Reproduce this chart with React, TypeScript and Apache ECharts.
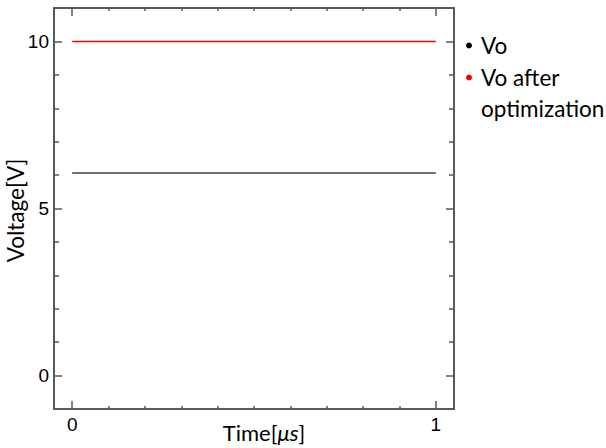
import React, { useEffect, useRef } from "react";
import * as echarts from "echarts";

const timeX = [0, 1];
const voValues = [6.06, 6.06];
const voOptValues = [10, 10];
const xMajor = [0, 1];
const xMinor = [0.1, 0.2, 0.3, 0.4, 0.5, 0.6, 0.7, 0.8, 0.9];
const yMajor = [0, 5, 10];
const yMinor = [1, 2, 3, 4, 6, 7, 8, 9];
const seriesNames = ["Vo", "Vo after optimization"];

const AXIS_COLOR = "#595959";
const TITLE_FONT = "Lato";
const TICK_FONT = "Liberation Sans";

function makeAxis(kind: "x" | "y", position: string, values: number[], len: number, showLine: boolean, labels: boolean, extra: any = {}) {
  const range = kind === "x" ? { min: -0.05, max: 1.05 } : { min: -1, max: 11 };
  return {
    type: "value",
    position,
    ...range,
    axisLine: { show: showLine, onZero: false, lineStyle: { color: AXIS_COLOR, width: 2 } },
    axisTick: { show: true, inside: true, length: len, customValues: values, lineStyle: { color: AXIS_COLOR, width: 1.5 } },
    axisLabel: labels
      ? { show: true, customValues: values, color: "#000", fontFamily: TICK_FONT, fontSize: 19, margin: kind === "x" ? 6 : 5 }
      : { show: false },
    splitLine: { show: false },
    minorTick: { show: false },
    ...extra,
  };
}

export default function App() {
  const ref = useRef<HTMLDivElement>(null);
  useEffect(() => {
    if (!ref.current) return;
    const chart = echarts.init(ref.current, undefined, { renderer: "svg" });
    const data0 = timeX.map((t, i) => [t, voValues[i]]);
    const data1 = timeX.map((t, i) => [t, voOptValues[i]]);
    chart.setOption({
      animation: false,
      backgroundColor: "#fff",
      grid: { left: 54, right: 152, top: 8, bottom: 39, containLabel: false, outerBoundsMode: "none" },
      xAxis: [
        makeAxis("x", "bottom", xMajor, 8, true, true, {
          name: "Time[{i|μs}]",
          nameLocation: "middle",
          nameGap: 12,
          nameMoveOverlap: false,
          nameTextStyle: {
            fontFamily: TITLE_FONT,
            fontSize: 22,
            color: "#000",
            padding: [0, 0, 0, 20],
            rich: {
              i: { fontFamily: TITLE_FONT, fontSize: 22, fontStyle: "italic", color: "#000" },
            },
          },
        }),
        makeAxis("x", "bottom", xMinor, 3, false, false),
        makeAxis("x", "top", xMajor, 8, true, false),
        makeAxis("x", "top", xMinor, 3, false, false),
      ],
      yAxis: [
        makeAxis("y", "left", yMajor, 8, true, true, {
          name: "Voltage[V]",
          nameLocation: "middle",
          nameGap: 27,
          nameMoveOverlap: false,
          nameTextStyle: {
            fontFamily: TITLE_FONT,
            fontSize: 22.5,
            color: "#000",
            padding: [0, 4, 0, 0],
          },
        }),
        makeAxis("y", "left", yMinor, 5, false, false),
        makeAxis("y", "right", yMajor, 8, true, false),
        makeAxis("y", "right", yMinor, 5, false, false),
      ],
      legend: [
        {
          data: [seriesNames[0]],
          orient: "vertical",
          left: 466,
          top: 30,
          padding: 0,
          icon: "circle",
          itemWidth: 14,
          itemHeight: 6,
          selectedMode: false,
          textStyle: { fontFamily: TITLE_FONT, fontSize: 22.5, color: "#000", lineHeight: 31 },
        },
        {
          data: [seriesNames[1]],
          orient: "vertical",
          left: 466,
          top: 31,
          padding: 0,
          icon: "circle",
          itemWidth: 14,
          itemHeight: 6,
          selectedMode: false,
          formatter: () => "\nVo after\noptimization",
          textStyle: { fontFamily: TITLE_FONT, fontSize: 22.5, color: "#000", lineHeight: 31 },
        },
      ],
      series: [
        {
          name: seriesNames[0],
          type: "line",
          xAxisIndex: 0,
          yAxisIndex: 0,
          data: data0,
          symbol: "none",
          itemStyle: { color: "#000" },
          lineStyle: { color: "#404040", width: 1.5 },
        },
        {
          name: seriesNames[1],
          type: "line",
          xAxisIndex: 0,
          yAxisIndex: 0,
          data: data1,
          symbol: "none",
          itemStyle: { color: "#ff0000" },
          lineStyle: { color: "#ff0000", width: 1.5 },
        },
      ],
    });
    return () => chart.dispose();
  }, []);
  return <div ref={ref} style={{ position: "absolute", left: 0, top: 0, width: 606, height: 448 }} />;
}
